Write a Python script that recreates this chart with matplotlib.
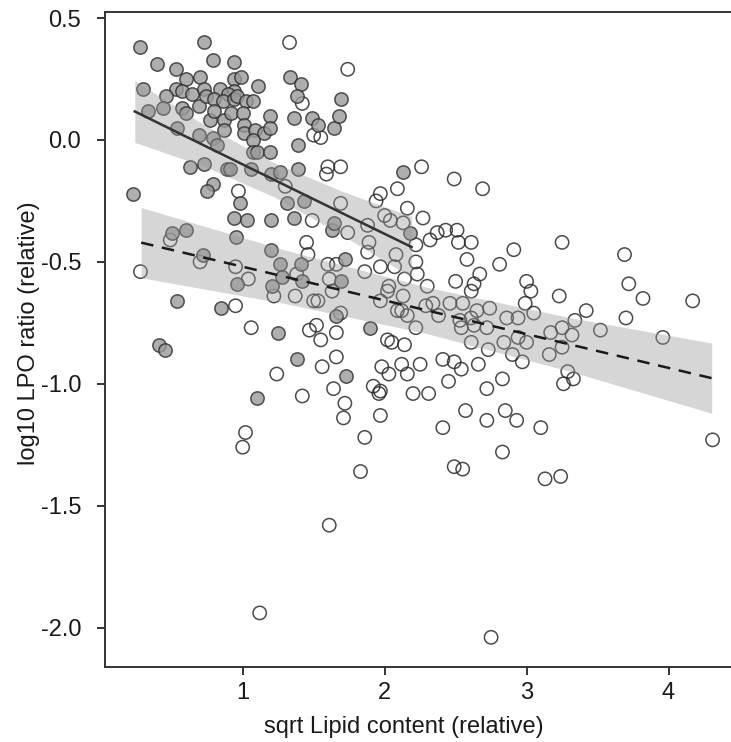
import numpy as np
import matplotlib
matplotlib.use("Agg")
import matplotlib.pyplot as plt

plt.rcParams['font.family'] = ['Liberation Sans', 'DejaVu Sans']

# grey (filled) group
grey_x = [0.28, 0.73, 0.40, 0.53, 0.79, 0.94, 0.60, 0.70, 0.30, 0.53,
          0.57, 0.64, 0.73, 0.69, 0.74, 0.84, 0.94, 0.99, 1.11, 0.94,
          0.90, 0.46, 0.33, 0.44, 0.57, 0.60, 0.80, 0.86, 0.94, 0.96,
          1.02, 1.07, 0.77, 0.80, 0.87, 0.92, 1.00, 1.01, 1.19, 0.54,
          0.69, 0.79, 0.87, 1.01, 1.09, 1.15, 1.19, 0.82, 1.07, 1.07,
          1.10, 1.19, 0.63, 0.73, 0.89, 0.91, 1.06, 1.20, 1.26, 1.39,
          0.79, 0.75, 0.23, 0.98, 1.31, 1.43, 0.94, 1.03, 1.20, 1.36,
          0.95, 0.50, 0.60, 1.33, 1.41, 1.38, 1.36, 1.49, 1.53, 1.64,
          1.68, 1.69, 1.39, 1.63, 1.64, 2.13, 2.18, 1.72, 1.69, 1.66,
          1.90, 0.72, 1.20, 0.96, 1.26, 1.41, 1.28, 1.42, 1.21, 0.54,
          0.85, 1.25, 0.41, 0.45, 1.38, 1.73, 1.10]
grey_y = [0.38, 0.40, 0.31, 0.29, 0.33, 0.32, 0.25, 0.26, 0.21, 0.21,
          0.20, 0.19, 0.21, 0.14, 0.18, 0.21, 0.25, 0.26, 0.22, 0.20,
          0.19, 0.18, 0.12, 0.13, 0.13, 0.11, 0.17, 0.16, 0.17, 0.18,
          0.16, 0.16, 0.08, 0.12, 0.08, 0.11, 0.11, 0.06, 0.10, 0.05,
          0.02, 0.01, 0.04, 0.03, 0.04, 0.03, 0.05, -0.02, 0.00, -0.05,
          -0.05, -0.05, -0.11, -0.10, -0.12, -0.12, -0.12, -0.14, -0.13, -0.12,
          -0.18, -0.21, -0.22, -0.26, -0.26, -0.25, -0.32, -0.33, -0.33, -0.32,
          -0.40, -0.38, -0.37, 0.26, 0.23, 0.18, 0.09, 0.09, 0.06, 0.05,
          0.10, 0.17, -0.02, -0.37, -0.34, -0.13, -0.38, -0.49, -0.58, -0.72,
          -0.77, -0.47, -0.45, -0.59, -0.51, -0.51, -0.56, -0.58, -0.60, -0.66,
          -0.69, -0.79, -0.84, -0.86, -0.90, -0.97, -1.06]

# white (open) group
white_x = [1.33, 1.74, 1.42, 1.50, 1.55, 1.60, 1.59, 1.69, 0.97, 1.30,
           1.69, 1.49, 1.45, 0.49, 1.74, 2.26, 2.49, 2.69, 2.09, 1.97,
           1.94, 2.16, 2.00, 2.04, 2.13, 2.27, 1.88, 2.22, 2.32, 2.37,
           2.43, 2.51, 2.52, 2.61, 1.89, 1.88, 2.58, 2.08, 2.07, 1.97,
           2.14, 2.22, 2.23, 1.66, 1.86, 2.81, 2.91, 3.25, 2.67, 2.63,
           2.61, 2.50, 2.30, 2.03, 2.02, 3.00, 3.03, 3.23, 3.34, 2.55,
           2.46, 2.29, 2.34, 2.13, 1.97, 2.99, 3.05, 2.86, 2.94, 2.74,
           2.65, 2.61, 2.53, 2.54, 2.63, 2.38, 2.09, 2.12, 2.16, 1.69,
           1.66, 2.22, 2.02, 2.05, 2.14, 2.84, 2.94, 3.00, 3.17, 3.25,
           3.25, 3.32, 2.73, 2.61, 2.90, 2.97, 2.41, 2.49, 2.66, 2.25,
           2.12, 1.98, 1.66, 3.69, 3.72, 3.82, 4.17, 3.70, 3.96, 3.42,
           3.52, 3.16, 2.72, 2.83, 2.72, 3.29, 3.33, 3.26, 2.85, 2.93,
           2.72, 3.10, 2.83, 3.13, 3.24, 4.31, 2.54, 2.03, 2.16, 1.97,
           2.20, 2.31, 2.45, 2.57, 2.41, 1.97, 2.49, 2.55, 0.95, 1.06,
           1.47, 1.52, 1.55, 1.56, 1.24, 1.42, 1.64, 1.72, 1.71, 1.92,
           1.96, 1.02, 1.00, 1.86, 1.83, 0.28, 0.70, 1.46, 0.95, 1.04,
           1.38, 1.22, 1.37, 1.60, 1.63, 1.50, 1.53, 1.61, 1.61, 1.12,
           2.75]
white_y = [0.40, 0.29, 0.15, 0.02, 0.01, -0.11, -0.14, -0.11, -0.21, -0.19,
           -0.26, -0.33, -0.42, -0.41, -0.38, -0.11, -0.16, -0.20, -0.20, -0.22,
           -0.25, -0.28, -0.31, -0.33, -0.34, -0.32, -0.35, -0.43, -0.41, -0.38,
           -0.37, -0.37, -0.42, -0.42, -0.42, -0.46, -0.49, -0.47, -0.52, -0.52,
           -0.57, -0.50, -0.55, -0.51, -0.54, -0.51, -0.45, -0.42, -0.55, -0.59,
           -0.62, -0.58, -0.60, -0.60, -0.62, -0.58, -0.62, -0.64, -0.74, -0.67,
           -0.67, -0.68, -0.67, -0.64, -0.66, -0.67, -0.71, -0.73, -0.73, -0.69,
           -0.70, -0.73, -0.74, -0.77, -0.76, -0.72, -0.70, -0.70, -0.72, -0.71,
           -0.79, -0.77, -0.82, -0.83, -0.84, -0.83, -0.81, -0.83, -0.79, -0.77,
           -0.85, -0.80, -0.86, -0.83, -0.88, -0.91, -0.90, -0.91, -0.92, -0.92,
           -0.92, -0.93, -0.89, -0.47, -0.59, -0.65, -0.66, -0.73, -0.81, -0.70,
           -0.78, -0.88, -0.77, -0.98, -1.02, -0.95, -0.98, -1.00, -1.11, -1.15,
           -1.15, -1.18, -1.28, -1.39, -1.38, -1.23, -0.94, -0.96, -0.96, -1.03,
           -1.04, -1.04, -0.99, -1.11, -1.18, -1.13, -1.34, -1.35, -0.68, -0.77,
           -0.78, -0.76, -0.82, -0.93, -0.96, -1.05, -1.02, -1.08, -1.14, -1.01,
           -1.04, -1.20, -1.26, -1.22, -1.36, -0.54, -0.50, -0.47, -0.52, -0.57,
           -0.55, -0.64, -0.64, -0.51, -0.62, -0.66, -0.66, -0.57, -1.58, -1.94,
           -2.04]

# fitted lines and 95% bands
grey_fit_x = [0.24, 0.73, 1.22, 1.70, 2.19]
grey_fit_y = [0.117, -0.023, -0.163, -0.300, -0.439]
grey_band_hi = [0.244, 0.062, -0.093, -0.210, -0.314]
grey_band_lo = [-0.010, -0.108, -0.233, -0.390, -0.564]

white_fit_x = [0.285, 1.29, 2.29, 3.30, 4.304]
white_fit_y = [-0.421, -0.560, -0.698, -0.838, -0.977]
white_band_hi = [-0.277, -0.450, -0.603, -0.728, -0.833]
white_band_lo = [-0.565, -0.670, -0.793, -0.948, -1.121]

x_ticks = [1, 2, 3, 4]
y_ticks = [0.5, 0.0, -0.5, -1.0, -1.5, -2.0]

fig = plt.figure(figsize=(7.31, 7.42), dpi=100)
ax = fig.add_axes([0.1436, 0.101, 0.8564, 0.8835])

ax.scatter(white_x, white_y, s=92, facecolors='none', edgecolors='#2b2b2b',
           linewidths=1.1, alpha=0.85, zorder=2)
ax.scatter(grey_x, grey_y, s=92, facecolors='#9a9a9a', edgecolors='#2b2b2b',
           linewidths=1.1, alpha=0.8, zorder=2)

ax.fill_between(grey_fit_x, grey_band_lo, grey_band_hi, color='#999999',
                alpha=0.4, linewidth=0, zorder=3)
ax.fill_between(white_fit_x, white_band_lo, white_band_hi, color='#999999',
                alpha=0.4, linewidth=0, zorder=3)
ax.plot(grey_fit_x, grey_fit_y, color='#333333', linewidth=1.8, zorder=4)
ax.plot(white_fit_x, white_fit_y, color='#1a1a1a', linewidth=1.8,
        linestyle=(0, (5, 3.5)), zorder=4)

ax.set_xlim(0.03, 4.44)
ax.set_ylim(-2.162, 0.527)
ax.set_xticks(x_ticks)
ax.set_yticks(y_ticks)
ax.set_yticklabels([f"{v:.1f}" for v in y_ticks])

for side in ['left', 'bottom', 'top']:
    ax.spines[side].set_linewidth(1.4)
    ax.spines[side].set_color('#333333')
ax.spines['right'].set_visible(False)
ax.tick_params(axis='both', length=6, width=1.4, color='#333333',
               labelsize=17, labelcolor='#1a1a1a')
ax.tick_params(axis='y', pad=11)
ax.tick_params(axis='x', pad=5)

ax.set_xlabel('sqrt Lipid content (relative)', fontsize=17, color='#1a1a1a')
ax.set_ylabel('log10 LPO ratio (relative)', fontsize=17, color='#1a1a1a')
ax.xaxis.set_label_coords(0.478, -0.075)
ax.yaxis.set_label_coords(-0.104, 0.51)

fig.savefig('out.png', dpi=100)
